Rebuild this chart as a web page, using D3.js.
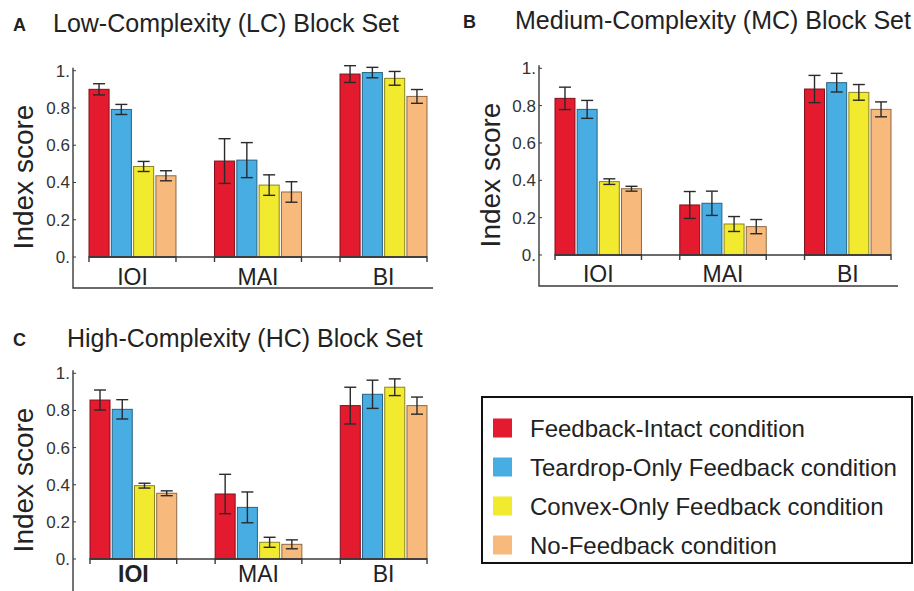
<!DOCTYPE html>
<html>
<head>
<meta charset="utf-8">
<script src="https://cdn.jsdelivr.net/npm/d3@7"></script>
<style>
  html, body { margin: 0; padding: 0; background: #fff; }
  svg { display: block; }
  text { font-family: "Liberation Sans", Arial, Helvetica, sans-serif; }
</style>
</head>
<body>
<svg id="chart" width="914" height="591"></svg>
<script>
// ---------- data ----------
const categories = ["IOI", "MAI", "BI"];
const seriesNames = [
  "Feedback-Intact condition",
  "Teardrop-Only Feedback condition",
  "Convex-Only Feedback condition",
  "No-Feedback condition"
];
const seriesColors = ["#E41B2F", "#47ADE3", "#F2EA2F", "#F8BA7C"];
const yTickValues = [0, 0.2, 0.4, 0.6, 0.8, 1.0];
const yTickLabels = ["0.", "0.2", "0.4", "0.6", "0.8", "1."];

// values per category (IOI, MAI, BI), each listing the 4 conditions
const lcMeans  = [[0.900, 0.792, 0.486, 0.436], [0.515, 0.520, 0.386, 0.349], [0.982, 0.990, 0.959, 0.862]];
const lcErrors = [[0.030, 0.027, 0.027, 0.027], [0.120, 0.094, 0.055, 0.055], [0.045, 0.028, 0.037, 0.037]];

const mcMeans  = [[0.839, 0.780, 0.393, 0.355], [0.268, 0.277, 0.166, 0.152], [0.889, 0.923, 0.871, 0.780]];
const mcErrors = [[0.060, 0.048, 0.015, 0.013], [0.072, 0.065, 0.040, 0.038], [0.073, 0.050, 0.042, 0.040]];

const hcMeans  = [[0.856, 0.806, 0.395, 0.354], [0.350, 0.278, 0.090, 0.079], [0.826, 0.887, 0.925, 0.826]];
const hcErrors = [[0.054, 0.052, 0.013, 0.013], [0.106, 0.083, 0.027, 0.024], [0.099, 0.076, 0.045, 0.046]];

const panelLetters = ["A", "B", "C"];
const panelTitles = [
  "Low-Complexity (LC) Block Set",
  "Medium-Complexity (MC) Block Set",
  "High-Complexity (HC) Block Set"
];
const yAxisTitle = "Index score";

// ---------- layout ----------
const panels = [
  { means: lcMeans, errors: lcErrors, letter: panelLetters[0], title: panelTitles[0],
    axisX: 73, y0: 257, y1: 70.7, bx0: 89, bx1: 427, frameBottom: 288, frameRight: 433,
    letterX: 13, letterY: 31, titleX: 53, titleY: 32, labY: 285, ylabX: 33, ylabY: 177, catBold: false },
  { means: mcMeans, errors: mcErrors, letter: panelLetters[1], title: panelTitles[1],
    axisX: 539, y0: 255, y1: 68.3, bx0: 555, bx1: 891, frameBottom: 286, frameRight: 898,
    letterX: 463, letterY: 28, titleX: 515, titleY: 29, labY: 282, ylabX: 500, ylabY: 175, catBold: false },
  { means: hcMeans, errors: hcErrors, letter: panelLetters[2], title: panelTitles[2],
    axisX: 73, y0: 559, y1: 373.3, bx0: 90, bx1: 427, frameBottom: 640, frameRight: 433,
    letterX: 13, letterY: 346, titleX: 67, titleY: 347, labY: 582, ylabX: 33, ylabY: 480, catBold: true }
];

const svg = d3.select("#chart");
const axisColor = "#3a3a3a";
const textColor = "#222";

panels.forEach((p, pi) => {
  const g = svg.append("g");
  const y = d3.scaleLinear().domain([0, 1]).range([p.y0, p.y1]);
  const x = d3.scaleBand().domain(categories).range([p.bx0, p.bx1]).paddingInner(0.307).paddingOuter(0);
  const xs = d3.scaleBand().domain(d3.range(seriesNames.length)).range([0, x.bandwidth()]).paddingInner(0.1);

  // titles
  g.append("text").attr("x", p.letterX).attr("y", p.letterY)
    .attr("font-size", 18).attr("font-weight", "bold").attr("fill", textColor).text(p.letter);
  g.append("text").attr("x", p.titleX).attr("y", p.titleY)
    .attr("font-size", 25).attr("fill", textColor).text(p.title);

  // frame (left axis line + bottom line)
  g.append("path")
    .attr("d", `M${p.axisX},${p.y1 - 3}V${p.frameBottom}H${p.frameRight}`)
    .attr("fill", "none").attr("stroke", axisColor).attr("stroke-width", 1.4);

  // y ticks
  const yTicks = g.append("g");
  yTickValues.forEach((v, i) => {
    yTicks.append("line").attr("x1", p.axisX).attr("x2", p.axisX + 3)
      .attr("y1", y(v)).attr("y2", y(v)).attr("stroke", axisColor).attr("stroke-width", 1);
    yTicks.append("text").attr("x", p.axisX - 3).attr("y", y(v) + 6)
      .attr("text-anchor", "end").attr("font-size", 17).attr("fill", "#333").text(yTickLabels[i]);
  });

  // y axis title
  g.append("text").attr("transform", `translate(${p.ylabX},${p.ylabY}) rotate(-90)`)
    .attr("text-anchor", "middle").attr("font-size", 28).attr("fill", textColor).text(yAxisTitle);

  // bars
  categories.forEach((cat, ci) => {
    const cg = g.append("g").attr("transform", `translate(${x(cat)},0)`);
    seriesNames.forEach((s, si) => {
      const v = p.means[ci][si];
      const e = p.errors[ci][si];
      const bx = xs(si);
      cg.append("rect")
        .attr("x", bx).attr("y", y(v))
        .attr("width", xs.bandwidth()).attr("height", y(0) - y(v))
        .attr("fill", seriesColors[si])
        .attr("stroke", d3.color(seriesColors[si]).darker(1.6)).attr("stroke-width", 1);
      const cx = bx + xs.bandwidth() / 2;
      const eg = cg.append("g").attr("stroke", "#2a2a2a").attr("stroke-width", 1.4);
      eg.append("line").attr("x1", cx).attr("x2", cx).attr("y1", y(v - e)).attr("y2", y(v + e));
      eg.append("line").attr("x1", cx - 6).attr("x2", cx + 6).attr("y1", y(v + e)).attr("y2", y(v + e));
      eg.append("line").attr("x1", cx - 6).attr("x2", cx + 6).attr("y1", y(v - e)).attr("y2", y(v - e));
    });
  });

  // baseline with band-edge ticks
  categories.forEach(cat => {
    const a = x(cat), b = x(cat) + x.bandwidth();
    g.append("path").attr("d", `M${a},${p.y0 + 5}V${p.y0}H${b}V${p.y0 + 5}`)
      .attr("fill", "none").attr("stroke", axisColor).attr("stroke-width", 1.4);
    g.append("text").attr("x", a + x.bandwidth() / 2).attr("y", p.labY)
      .attr("text-anchor", "middle").attr("font-size", 23)
      .attr("font-weight", (p.catBold && cat === "IOI") ? "bold" : "normal")
      .attr("fill", textColor).text(cat);
  });
  // connecting baseline between groups
  g.append("line").attr("x1", p.bx0).attr("x2", p.bx1).attr("y1", p.y0).attr("y2", p.y0)
    .attr("stroke", axisColor).attr("stroke-width", 1.4);
});

// ---------- legend ----------
const legend = svg.append("g");
legend.append("rect").attr("x", 482).attr("y", 397).attr("width", 430).attr("height", 166)
  .attr("fill", "#fff").attr("stroke", "#111").attr("stroke-width", 2);
const ly = d3.scalePoint().domain(seriesNames).range([428, 545]);
seriesNames.forEach((s, i) => {
  legend.append("rect").attr("x", 493).attr("y", ly(s) - 9.5).attr("width", 19).attr("height", 19)
    .attr("fill", seriesColors[i]);
  legend.append("text").attr("x", 530).attr("y", ly(s) + 8.5)
    .attr("font-size", 24).attr("fill", textColor).text(s);
});
</script>
</body>
</html>
